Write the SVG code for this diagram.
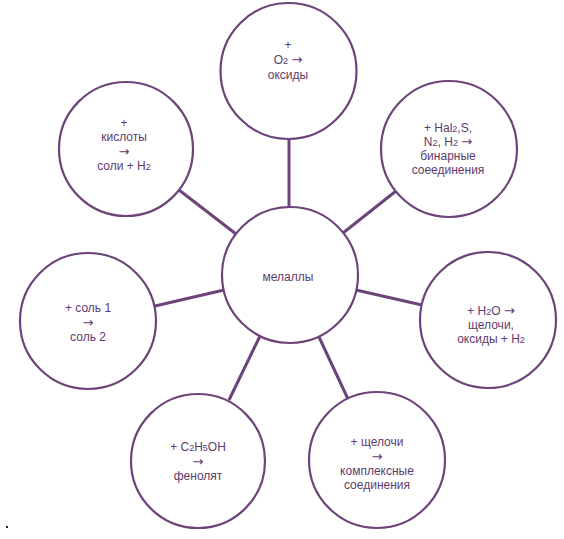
<svg xmlns="http://www.w3.org/2000/svg" width="564" height="539" viewBox="0 0 564 539">
<style>
.n{fill:#fff;stroke:#6d4479;stroke-width:2.2}
.c line{stroke:#6d4479;stroke-width:3;stroke-linecap:butt}
text{font-family:"Liberation Sans",Arial,sans-serif;font-size:12px;fill:#5e3a6e;text-anchor:middle}
.s{font-size:9px}
.a{font-family:"DejaVu Sans",sans-serif;font-size:13px}
</style>
<rect width="564" height="539" fill="#fff"/>
<g class="c" id="connectors">
<line x1="289" y1="139" x2="289" y2="207"/>
<line x1="343" y1="233" x2="396" y2="191"/>
<line x1="236" y1="234" x2="179" y2="190"/>
<line x1="224" y1="290" x2="155" y2="306"/>
<line x1="356" y1="290" x2="422" y2="305"/>
<line x1="260" y1="336" x2="229" y2="400"/>
<line x1="319" y1="337" x2="348" y2="399"/>
</g>
<g id="center"><circle class="n" cx="290" cy="275" r="68"/><text x="288" y="281">мелаллы</text></g>
<g id="top"><circle class="n" cx="288.5" cy="71" r="68"/>
<text x="288" y="49">+</text>
<text x="288" y="64">O<tspan class="s">2</tspan> <tspan class="a">→</tspan></text>
<text x="288" y="79">оксиды</text></g>
<g id="topright"><circle class="n" cx="449" cy="149" r="68"/>
<text x="448" y="132">+ Hal<tspan class="s">2</tspan>,S,</text>
<text x="448" y="146">N<tspan class="s">2</tspan>, H<tspan class="s">2</tspan> <tspan class="a">→</tspan></text>
<text x="448" y="160">бинарные</text>
<text x="448" y="174">соеединения</text></g>
<g id="topleft"><circle class="n" cx="126" cy="149" r="67"/>
<text x="124" y="127">+</text>
<text x="124" y="141">кислоты</text>
<text x="124" y="156" class="a">→</text>
<text x="124" y="170">соли + H<tspan class="s">2</tspan></text></g>
<g id="left"><circle class="n" cx="88" cy="321" r="68"/>
<text x="88" y="312">+ соль 1</text>
<text x="88" y="327" class="a">→</text>
<text x="88" y="341">соль 2</text></g>
<g id="right"><circle class="n" cx="488" cy="320" r="68"/>
<text x="491" y="315">+ H<tspan class="s">2</tspan>O <tspan class="a">→</tspan></text>
<text x="491" y="329">щелочи,</text>
<text x="491" y="343">оксиды + H<tspan class="s">2</tspan></text></g>
<g id="bottomleft"><circle class="n" cx="198" cy="461" r="67"/>
<text x="198" y="451">+ C<tspan class="s">2</tspan>H<tspan class="s">5</tspan>OH</text>
<text x="198" y="466" class="a">→</text>
<text x="198" y="480">фенолят</text></g>
<g id="bottomright"><circle class="n" cx="377" cy="460" r="68"/>
<text x="377" y="446">+ щелочи</text>
<text x="377" y="461" class="a">→</text>
<text x="377" y="475">комплексные</text>
<text x="377" y="489">соединения</text></g>
<rect x="6" y="526" width="2" height="2" fill="#222"/>
</svg>
